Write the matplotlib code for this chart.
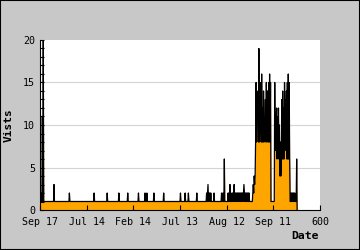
import numpy as np
import matplotlib
matplotlib.use("Agg")
from matplotlib import pyplot as plt
from matplotlib.ticker import MultipleLocator

# Daily visits, index 0 .. last day. Most days have 1 visit.
n_days = 552
base_visits = 1

# isolated days that differ from the base level
spike_days = [0, 2, 5, 7, 30, 63, 116, 144, 169, 188, 211, 225, 229, 244, 265,
              301, 311, 318, 336, 357, 359, 360, 362, 364, 366, 373, 389, 392, 395,
              403, 405, 407, 409, 412, 414, 416, 418, 420,
              422, 424, 426, 428, 430, 432, 434, 436, 437, 438, 440, 442, 444, 446,
              448, 456, 457, 458, 459, 460, 461,
              538, 540, 542, 544, 546, 550, 551]
spike_visits = [1, 2, 11, 20, 3, 2, 2, 2, 2, 2, 2, 2, 2, 2, 2,
                2, 2, 2, 2, 2, 2, 3, 2, 2, 2, 2, 2, 2, 6,
                2, 2, 3, 2, 2, 2, 3, 2, 2,
                2, 2, 2, 2, 2, 2, 2, 2, 3, 2, 2, 2, 2, 2,
                2, 2, 3, 2, 4, 3, 4,
                2, 2, 2, 2, 2, 6, 0]

# first busy period
burst1_start = 462
burst1 = [8, 15, 8, 12, 12, 14, 8, 19, 8, 13, 9, 15, 8, 16, 8, 12, 8,
          14, 8, 10, 10, 13, 8, 15, 8, 14, 14, 8, 15, 8, 16, 8, 15, 1]

# second busy period
burst2_start = 503
burst2 = [15, 7, 10, 10, 12, 6, 11, 7, 12, 6, 10, 4, 8, 4, 5, 13, 6, 14,
          6, 12, 6, 15, 7, 13, 11, 14, 6, 15, 6, 16, 6, 15, 6, 1]

x_ticks = [0, 100, 200, 300, 400, 500, 600]
x_labels = ["Sep 17", "Jul 14", "Feb 14", "Jul 13", "Aug 12", "Sep 11", "600"]
y_ticks = [0, 5, 10, 15, 20]

days = np.arange(n_days)
visits = np.full(n_days, base_visits, dtype=float)
visits[spike_days] = spike_visits
visits[burst1_start:burst1_start + len(burst1)] = burst1
visits[burst2_start:burst2_start + len(burst2)] = burst2

mono = "DejaVu Sans Mono"

fig = plt.figure(figsize=(3.6, 2.5), dpi=100, facecolor="#c8c8c8")
ax = fig.add_axes([40 / 360, 40 / 250, 280 / 360, 170 / 250])
ax.set_facecolor("white")

for y in y_ticks[1:-1]:
    ax.axhline(y, color="#d4d4d4", lw=0.8, zorder=0.5)

ax.fill_between(days, visits, color="#ffa500", lw=0, zorder=1)
ax.plot(days, visits, color="black", lw=0.9, zorder=2)

ax.set_xlim(0, 600)
ax.set_ylim(0, 20)
ax.spines["top"].set_visible(False)
ax.spines["right"].set_visible(False)
ax.spines["left"].set_linewidth(0.8)
ax.spines["bottom"].set_linewidth(0.8)

ax.set_xticks(x_ticks)
ax.set_xticklabels(x_labels, fontfamily=mono, fontsize=7.2)
ax.set_yticks(y_ticks)
ax.set_yticklabels([str(v) for v in y_ticks], fontfamily=mono, fontsize=7.2)
ax.yaxis.set_minor_locator(MultipleLocator(1))
ax.tick_params(axis="x", direction="in", length=3.6, width=0.8, pad=5)
ax.tick_params(axis="y", which="both", direction="in", length=3, width=0.8, pad=3.5)

fig.text(9 / 360, 1 - 125 / 250, "Vists", rotation=90, ha="center", va="center",
         fontfamily=mono, fontsize=8, fontweight="bold")
fig.text(319 / 360, 1 - 236 / 250, "Date", ha="right", va="center",
         fontfamily=mono, fontsize=8.2, fontweight="bold")

fig.patches.append(plt.Rectangle((0, 0), 1, 1, transform=fig.transFigure,
                                 fill=False, edgecolor="black", lw=1.5))

fig.savefig("out.png", dpi=100, facecolor=fig.get_facecolor())
